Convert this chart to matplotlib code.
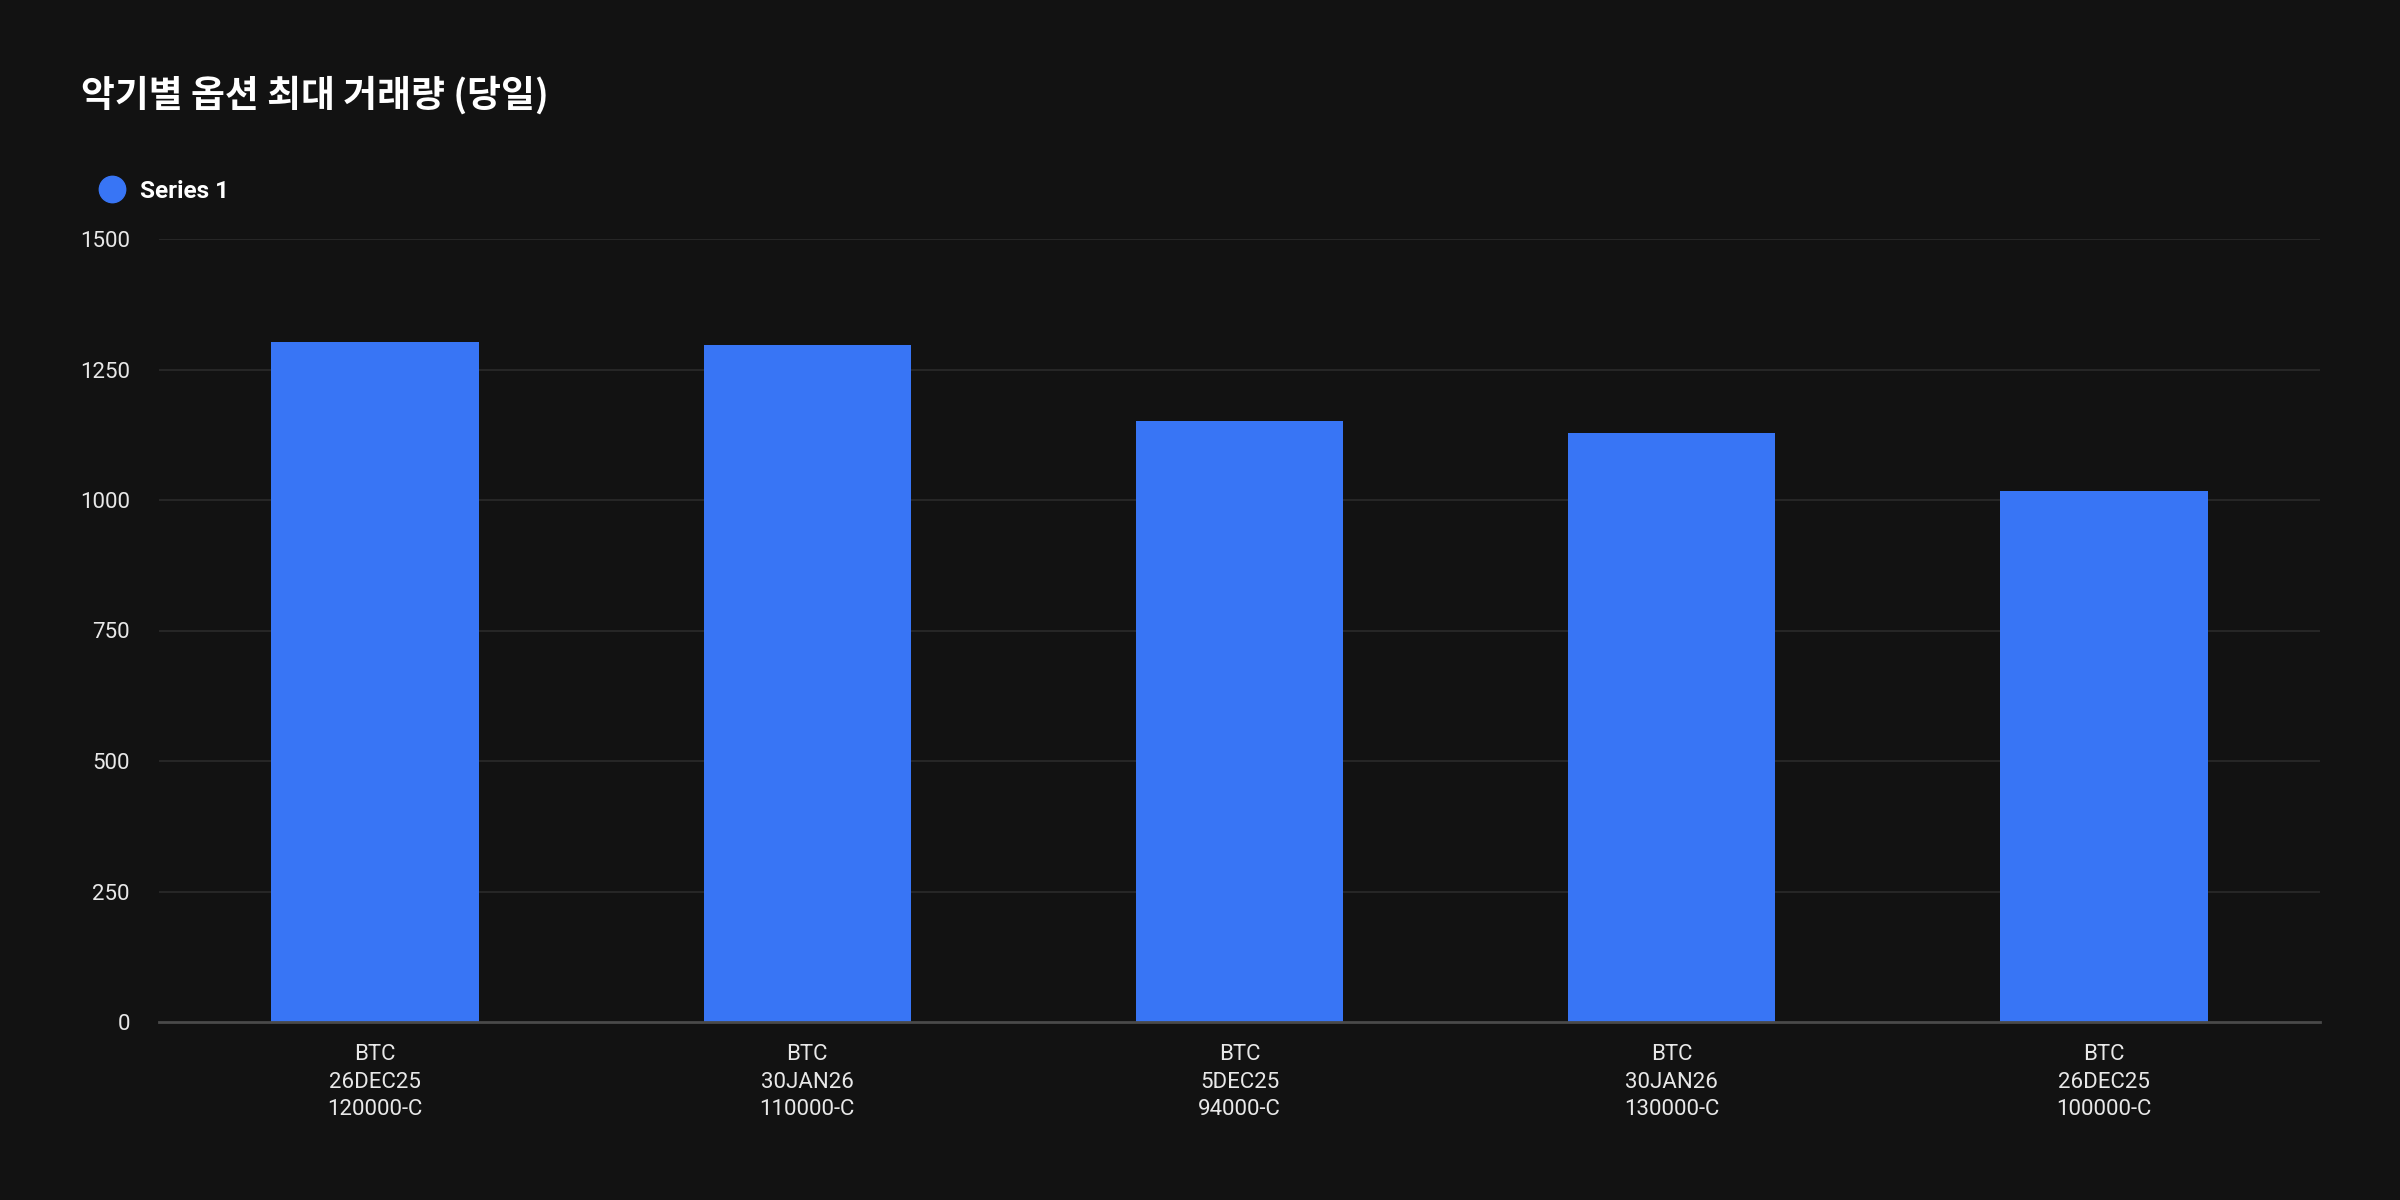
import matplotlib
matplotlib.use("Agg")
import matplotlib.pyplot as plt
from matplotlib.lines import Line2D

categories = ["BTC\n26DEC25\n120000-C", "BTC\n30JAN26\n110000-C", "BTC\n5DEC25\n94000-C",
              "BTC\n30JAN26\n130000-C", "BTC\n26DEC25\n100000-C"]
values = [1303, 1296, 1151, 1128, 1018]
yticks = [0, 250, 500, 750, 1000, 1250, 1500]
series_name = "Series 1"
title = "악기별 옵션 최대 거래량 (당일)"

BG = "#121212"
BAR = "#3875F5"

plt.rcParams['font.family'] = ['Roboto', 'Noto Sans CJK KR', 'DejaVu Sans']

fig = plt.figure(figsize=(24, 12), dpi=100, facecolor=BG)
ax = fig.add_axes([159/2400, 1 - 1022/1200, (2320-159)/2400, (1022-239)/1200])
ax.set_facecolor(BG)

x = list(range(len(categories)))
ax.bar(x, values, width=0.48, color=BAR, zorder=3)
ax.set_xlim(-0.5, len(categories) - 0.5)
ax.set_ylim(0, 1500)
ax.set_yticks(yticks)
ax.set_yticklabels([str(v) for v in yticks])
ax.set_xticks(x)
ax.set_xticklabels(categories, linespacing=1.4)

for v in yticks[1:]:
    ax.axhline(v, color="#262626", linewidth=1.5, zorder=1)

for s in ["top", "right", "left"]:
    ax.spines[s].set_visible(False)
ax.spines["bottom"].set_color("#4a4a4a")
ax.spines["bottom"].set_linewidth(2)
ax.spines["bottom"].set_zorder(4)

ax.tick_params(axis="y", length=0, pad=21, labelsize=16, labelcolor="#e8e8e8")
ax.tick_params(axis="x", length=0, pad=16, labelsize=16, labelcolor="#e8e8e8")

fig.text(81/2400, 1 - 95/1200, title, fontsize=26.5, fontweight="bold", color="white",
         va="center", ha="left", family=['Noto Sans CJK KR', 'DejaVu Sans'])

handle = Line2D([], [], marker="o", linestyle="none", markersize=19,
                markerfacecolor=BAR, markeredgecolor=BAR)
leg = fig.legend([handle], [series_name], loc="center left",
                 bbox_to_anchor=(97/2400, 1 - 191/1200), frameon=False,
                 handletextpad=0.55, handlelength=1.2, borderaxespad=0, borderpad=0,
                 prop={"family": "Roboto", "weight": "bold", "size": 17.5})
for t in leg.get_texts():
    t.set_color("white")

fig.savefig("out.png", dpi=100, facecolor=BG)
